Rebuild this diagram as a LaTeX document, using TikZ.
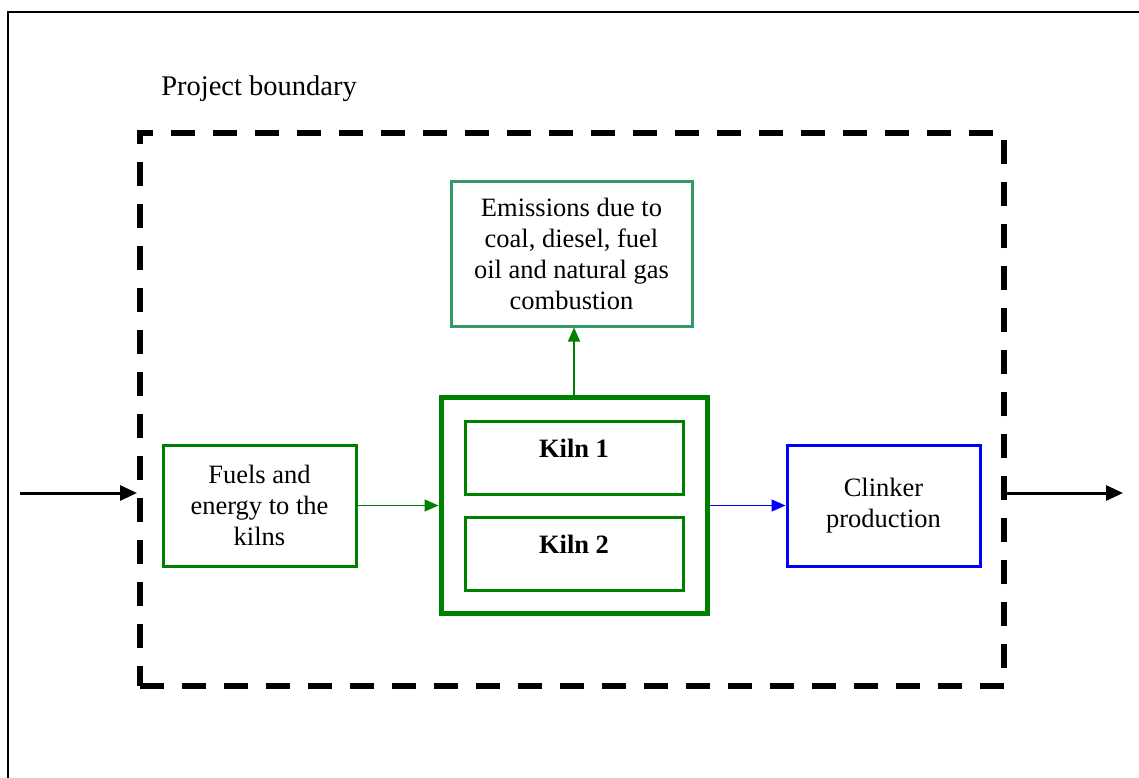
\documentclass[tikz,border=0pt]{standalone}
\usepackage{fontspec}
\setmainfont{Liberation Serif}
\usetikzlibrary{arrows.meta,positioning}
\tikzstyle{l2}=[line width=3pt]
\tikzstyle{box}=[rectangle, draw, l2, align=center, inner sep=0pt, font=\fontsize{26.5}{31}\selectfont]
\tikzstyle{kiln}=[box, draw=mgreen, minimum width=218pt, minimum height=73pt, text height=18pt, text depth=18pt, font=\fontsize{26.5}{31}\selectfont\bfseries]
\tikzstyle{flow}=[-{Triangle[length=14pt,width=12pt]}, line width=1.5pt]
\tikzstyle{io}=[-{Triangle[length=17pt,width=15pt]}, line width=3pt]
\definecolor{mgreen}{HTML}{008000}
\definecolor{msea}{HTML}{339966}
\definecolor{mblue}{HTML}{0000FF}
\begin{document}
\begin{tikzpicture}[x=1pt, y=-1pt]
    \useasboundingbox (0,0) rectangle (1139,778);
    \draw[line width=2pt] (8,779) -- (8,12) -- (1140,12);

    \node[font=\fontsize{28.5}{34}\selectfont] at (259, 89) (lbl) {Project boundary};
    \node[draw, line width=6pt, dash pattern=on 24pt off 18pt, minimum width=864pt, minimum height=553pt, inner sep=0pt] at (572, 409.5) (bnd) {};

    \node[box, draw=msea, minimum width=241pt, minimum height=145pt] at (571.5, 253.5) (emis) {Emissions due to\\coal, diesel, fuel\\oil and natural gas\\combustion};
    \node[box, draw=mgreen, minimum width=193pt, minimum height=121pt] at (259.5, 505.5) (fuel) {Fuels and\\energy to the\\kilns};
    \node[rectangle, draw=mgreen, line width=5pt, minimum width=266pt, minimum height=216pt] at (574, 505) (kilns) {};
    \node[kiln] at (574, 457.5) (k1) {Kiln 1};
    \node[kiln] at (574, 553.5) (k2) {Kiln 2};
    \node[box, draw=mblue, minimum width=193pt, minimum height=121pt] at (883.5, 505.5) (clk) {Clinker\\production};

    \coordinate (src) at (20, 493);
    \coordinate (snk) at (1123, 493);
    \draw[io] (src) -- (src -| bnd.west);
    \draw[io] (snk -| bnd.east) -- (snk);

    \draw[flow, mgreen] (fuel.east) -- (fuel.east -| kilns.west);
    \draw[flow, mblue] (kilns.east |- clk.west) -- (clk.west);
    \draw[flow, mgreen] (kilns.north) -- (kilns.north |- emis.south);
\end{tikzpicture}
\end{document}
